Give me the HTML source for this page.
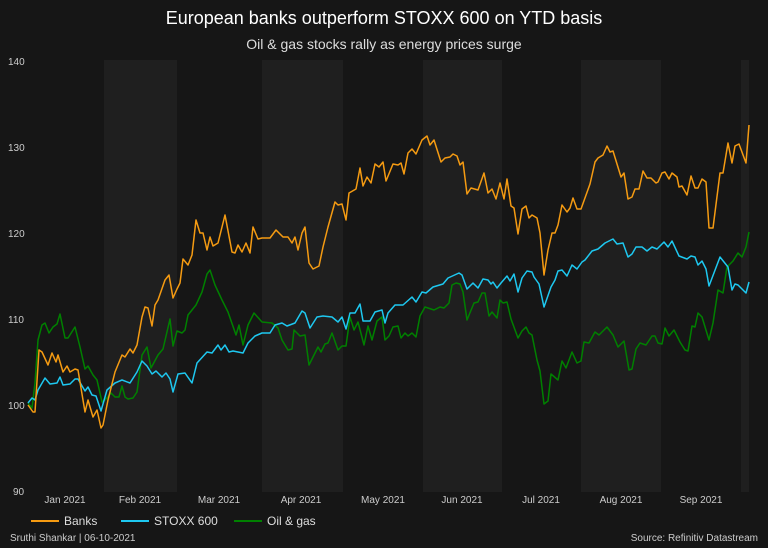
<!DOCTYPE html>
<html><head><meta charset="utf-8"><style>
body{margin:0;background:#161616;}
svg{display:block;font-family:"Liberation Sans",sans-serif;}
</style></head><body>
<svg width="768" height="548" viewBox="0 0 768 548" xmlns="http://www.w3.org/2000/svg">
<rect width="768" height="548" fill="#161616"/>
<g fill="#1f1f1f">
<rect x="104" y="60" width="73" height="432"/>
<rect x="262" y="60" width="81" height="432"/>
<rect x="423" y="60" width="79" height="432"/>
<rect x="581" y="60" width="80" height="432"/>
<rect x="741" y="60" width="8" height="432"/>
</g>
<text x="384" y="24" fill="#fff" font-size="18" text-anchor="middle">European banks outperform STOXX 600 on YTD basis</text>
<text x="384" y="49" fill="#ddd" font-size="14" text-anchor="middle">Oil &amp; gas stocks rally as energy prices surge</text>
<g fill="#ccc" font-size="10">
<text x="8" y="65">140</text><text x="8" y="151">130</text><text x="8" y="237">120</text>
<text x="8" y="323">110</text><text x="8" y="409">100</text><text x="13" y="495">90</text>
</g>
<g fill="#ccc" font-size="10" text-anchor="middle">
<text x="65" y="503">Jan 2021</text><text x="140" y="503">Feb 2021</text><text x="219" y="503">Mar 2021</text>
<text x="301" y="503">Apr 2021</text><text x="383" y="503">May 2021</text><text x="462" y="503">Jun 2021</text>
<text x="541" y="503">Jul 2021</text><text x="621" y="503">Aug 2021</text><text x="701" y="503">Sep 2021</text>
</g>
<g fill="none" stroke-width="1.5" stroke-linejoin="round">
<polyline stroke="#008000" points="28,403 32,408 35,383 38,340 42,325 45,323 49,333 53,327 57,324 60,314 65,338 68,338 75,327 80,347 85,369 88,366 93,375 97,380 102,402 105,400 111,393 115,397 119,397 122,386 125,397 128,399 133,398 137,392 142,355 147,347 151,368 158,355 163,349 170,319 173,346 177,331 182,333 185,330 188,315 196,305 202,292 207,274 210,270 215,285 222,300 228,312 236,335 239,325 243,345 248,325 254,313 262,322 272,323 278,328 282,340 288,350 292,349 294,330 300,336 305,335 309,365 313,357 318,347 321,352 325,344 328,343 332,333 338,350 342,346 346,346 350,317 354,330 358,322 364,345 368,326 372,340 377,321 382,317 385,340 389,336 393,327 398,326 401,338 405,333 408,336 412,333 416,337 420,316 425,307 434,310 440,307 444,308 449,303 452,285 456,283 460,284 463,292 467,320 474,303 478,302 482,293 485,293 489,316 492,312 497,318 500,300 503,303 507,302 511,319 518,338 522,331 526,327 529,333 532,335 537,360 540,371 544,404 548,401 551,374 558,380 562,361 566,368 572,352 577,363 581,361 584,342 589,343 595,332 599,335 607,327 613,335 618,347 624,341 629,370 632,369 636,349 640,343 646,345 652,336 655,336 658,343 662,344 665,328 669,336 674,330 680,342 685,350 688,351 692,326 695,327 698,313 702,317 709,340 713,323 718,290 723,293 727,267 733,261 738,253 742,257 746,247 749,232"/>
<polyline stroke="#1ec8f0" points="28,403 32,398 35,400 38,390 45,378 50,384 57,383 60,377 63,385 70,384 75,379 78,379 85,391 88,387 92,395 96,396 101,411 107,390 115,383 122,380 130,383 137,372 142,361 147,366 152,374 156,371 162,377 166,373 170,379 173,392 178,374 185,373 192,383 197,363 207,352 212,353 218,345 221,350 225,345 229,352 233,351 243,353 248,343 255,336 262,333 270,333 275,325 282,323 287,326 295,323 302,311 305,313 310,328 317,317 323,316 332,317 338,322 342,317 346,329 350,313 355,313 360,304 363,321 370,321 375,312 382,310 385,323 388,313 395,305 403,305 412,297 416,302 422,292 426,293 433,287 443,284 448,278 459,273 462,275 467,289 473,283 478,288 483,279 488,280 491,284 493,282 497,288 501,283 507,276 510,281 514,274 518,292 522,278 527,271 532,272 534,277 539,284 544,307 551,287 555,280 558,271 562,270 567,276 572,265 577,269 582,262 585,260 592,251 598,249 605,243 613,239 617,244 623,243 628,257 632,254 636,247 642,247 647,251 652,247 657,249 664,242 668,247 672,241 679,256 687,259 691,256 695,257 698,265 702,261 706,269 709,286 720,257 728,267 732,290 735,284 738,285 746,293 749,282"/>
<polyline stroke="#f59b12" points="28,405 33,412 35,412 39,350 42,352 48,365 52,353 56,362 58,355 63,372 67,366 70,372 75,369 78,370 85,412 88,400 93,417 97,410 101,428 103,425 108,400 115,372 122,355 125,357 130,349 133,353 137,345 142,317 145,307 148,308 152,326 155,305 158,300 165,280 169,275 173,298 177,289 180,283 183,259 188,265 192,255 196,220 200,233 203,233 207,250 210,237 213,246 218,243 225,215 232,252 235,253 238,245 242,252 246,243 250,253 253,227 258,239 262,238 270,238 276,230 283,237 288,237 292,243 295,237 298,250 302,233 305,227 309,263 313,269 319,266 323,247 328,227 335,202 338,205 342,204 346,220 349,193 356,189 360,168 363,186 367,177 371,183 375,164 379,167 383,162 386,181 393,164 398,165 401,163 404,174 408,153 412,149 416,154 422,140 427,136 430,145 434,140 441,162 445,158 450,157 453,154 457,156 460,165 463,162 467,194 471,188 478,190 484,173 488,193 492,189 496,199 500,183 504,199 507,179 511,206 514,208 518,234 522,209 526,206 529,218 532,215 537,218 540,233 544,275 548,250 552,233 555,233 558,225 562,205 567,212 570,208 573,198 577,209 581,209 590,184 595,162 598,158 603,155 607,146 610,152 613,151 621,177 624,173 628,199 632,197 635,189 639,189 643,171 647,178 651,178 656,183 658,182 662,173 665,172 669,179 672,173 677,177 679,187 682,186 687,195 691,176 695,188 698,188 702,179 706,182 709,228 713,228 720,173 723,173 728,143 732,163 735,146 739,144 746,163 749,125"/>
</g>
<g font-size="12" fill="#ddd">
<line x1="31" y1="521" x2="59" y2="521" stroke="#f59b12" stroke-width="2"/><text x="64" y="525">Banks</text>
<line x1="121" y1="521" x2="149" y2="521" stroke="#1ec8f0" stroke-width="2"/><text x="154" y="525">STOXX 600</text>
<line x1="234" y1="521" x2="262" y2="521" stroke="#008000" stroke-width="2"/><text x="267" y="525">Oil &amp; gas</text>
</g>
<text x="10" y="541" font-size="10" fill="#ccc">Sruthi Shankar | 06-10-2021</text>
<text x="758" y="541" font-size="10" fill="#ccc" text-anchor="end">Source: Refinitiv Datastream</text>
</svg>
</body></html>
